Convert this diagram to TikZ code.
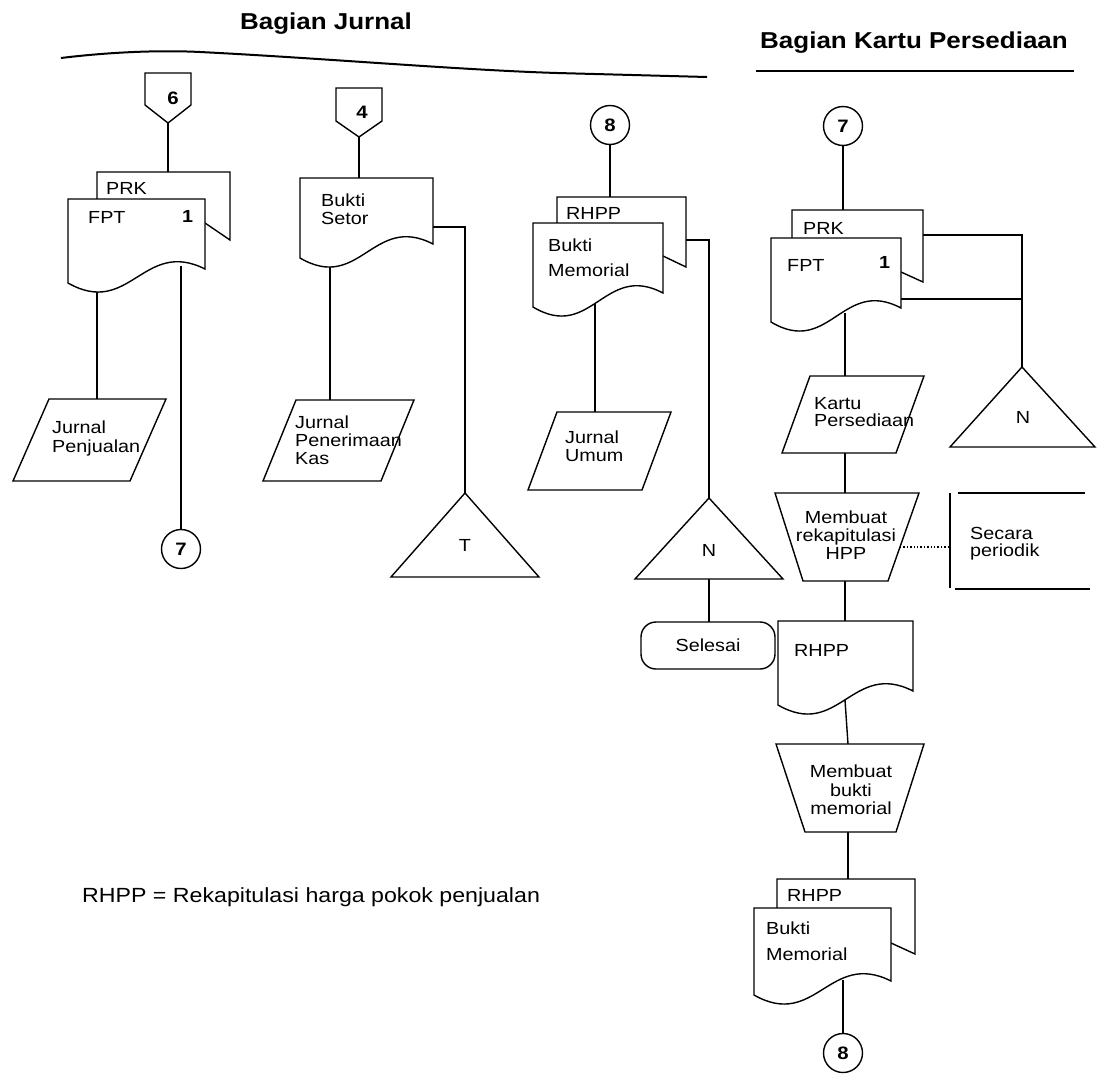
\documentclass[tikz,border=0pt]{standalone}
\usepackage{fontspec}
\setmainfont{Liberation Sans}[FakeStretch=1.13]
\usetikzlibrary{calc}

\newcommand\bodyfont{\fontsize{17.5}{19}\selectfont}
\newcommand\numfont{\fontsize{18}{18}\selectfont\bfseries}
\newcommand\headfont{\fontsize{23}{25}\selectfont\bfseries}
\newcommand\notefont{\fontsize{20.5}{22}\selectfont}

% document symbol: left x, top y, right x, bottom y at the left edge
\newcommand\docshape[4]{%
  \draw[shp] (#1,#2) -- (#3,#2) -- (#3,{#4-14})
    .. controls ({#1+0.55*(#3-#1)},{#4-45}) and ({#1+0.45*(#3-#1)},{#4+35}) .. (#1,#4) -- cycle;}
% copy behind a document: left x, top y, right x, bottom-right y, front right x, front y
\newcommand\backdoc[6]{%
  \draw[shp] (#5,#6) -- (#3,#4) -- (#3,#2) -- (#1,#2) -- (#1,{#2+40}) -- cycle;}

\begin{document}
\begin{tikzpicture}[x=1pt,y=-1pt,
  every node/.style={inner sep=0pt},
  ln/.style={line width=1.4pt},
  shp/.style={draw, line width=1.4pt, fill=white, line join=miter},
  lbl/.style={font=\bodyfont, align=left, anchor=west},
  ctr/.style={font=\bodyfont, align=center},
  num/.style={font=\numfont},
  conn/.style={draw, circle, line width=1.4pt, fill=white, minimum size=39pt, font=\numfont}]

\useasboundingbox (0,0) rectangle (1104,1092);
\fill[white] (0,0) rectangle (1104,1092);

% ---------- section headings ----------
\node[font=\headfont] (hjurnal) at (326,24) {Bagian Jurnal};
\node[font=\headfont] (hkartu) at (914,43) {Bagian Kartu Persediaan};
\draw[line width=2pt] (61,58) .. controls (110,52) and (160,50) .. (200,52)
  .. controls (320,58) and (460,70) .. (557,73) -- (707,77);
\draw[line width=2pt] (756,71) -- (1074,71);

% ---------- anchor points of the flow lines ----------
\coordinate (p6-tip) at (168,123);
\coordinate (prk1-top) at (168,172);
\coordinate (fpt1-bot) at (97,291);
\coordinate (jp-top) at (97,399);
\coordinate (prk1-out) at (181,266);

\coordinate (p4-tip) at (359,137);
\coordinate (bs-top) at (359,178);
\coordinate (bs-bot) at (330,266);
\coordinate (jpk-top) at (330,400);
\coordinate (bs-out) at (433,227);
\coordinate (bs-turn) at (465,227);
\coordinate (t-top) at (465,493);

\coordinate (rhpp1-top) at (610,197);
\coordinate (bm1-bot) at (595,302);
\coordinate (ju-top) at (595,412);
\coordinate (rhpp1-out) at (686,240);
\coordinate (rhpp1-turn) at (709,240);
\coordinate (n1-top) at (709,498);
\coordinate (n1-bot) at (709,579);
\coordinate (sel-top) at (709,622);

\coordinate (prk2-top) at (843,210);
\coordinate (prk2-out) at (923,235);
\coordinate (prk2-turn) at (1022,235);
\coordinate (fpt2-out) at (901,299);
\coordinate (fpt2-join) at (1022,299);
\coordinate (n2-top) at (1022,367);
\coordinate (fpt2-bot) at (845,313);
\coordinate (kp-top) at (845,376);
\coordinate (kp-bot) at (845,453);
\coordinate (mr-top) at (845,493);
\coordinate (mr-bot) at (845,581);
\coordinate (mr-side) at (900,547);
\coordinate (note-side) at (950,547);
\coordinate (rhpp2-top) at (845,621);
\coordinate (rhpp2-bot) at (845,700);
\coordinate (mb-top) at (848,744);
\coordinate (mb-bot) at (848,832);
\coordinate (rhpp3-top) at (848,879);
\coordinate (bm2-bot) at (843,980);

% ---------- connectors (node to node) ----------
\node[conn] (c7a) at (181,549) {7};
\node[conn] (c8a) at (610,125) {8};
\node[conn] (c7b) at (843,126) {7};
\node[conn] (c8b) at (843,1053) {8};

\draw[ln] (p6-tip) -- (prk1-top);
\draw[ln] (fpt1-bot) -- (jp-top);
\draw[ln] (prk1-out) -- (c7a.north);
\draw[ln] (p4-tip) -- (bs-top);
\draw[ln] (bs-bot) -- (jpk-top);
\draw[ln] (bs-out) -- (bs-turn) -- (t-top);
\draw[ln] (c8a.south) -- (rhpp1-top);
\draw[ln] (bm1-bot) -- (ju-top);
\draw[ln] (rhpp1-out) -- (rhpp1-turn) -- (n1-top);
\draw[ln] (n1-bot) -- (sel-top);
\draw[ln] (c7b.south) -- (prk2-top);
\draw[ln] (prk2-out) -- (prk2-turn) -- (n2-top);
\draw[ln] (fpt2-out) -- (fpt2-join);
\draw[ln] (fpt2-bot) -- (kp-top);
\draw[ln] (kp-bot) -- (mr-top);
\draw[ln, dotted] (mr-side) -- (note-side);
\draw[ln] (mr-bot) -- (rhpp2-top);
\draw[ln] (rhpp2-bot) -- (mb-top);
\draw[ln] (mb-bot) -- (rhpp3-top);
\draw[ln] (bm2-bot) -- (c8b.north);

% ---------- column: Bagian Jurnal, penjualan ----------
\draw[shp] (145,73) -- (191,73) -- (191,105) -- (p6-tip) -- (145,105) -- cycle;
\backdoc{97}{172}{230}{240}{205}{223}
\docshape{68}{199}{205}{283}
\draw[shp] (49,399) -- (166,399) -- (130,481) -- (13,481) -- cycle;

% ---------- column: penerimaan kas ----------
\draw[shp] (336,88) -- (382,88) -- (382,121) -- (p4-tip) -- (336,121) -- cycle;
\docshape{300}{178}{433}{258}
\draw[shp] (296,400) -- (414,400) -- (381,481) -- (263,481) -- cycle;
\draw[shp] (t-top) -- (539,577) -- (391,577) -- cycle;

% ---------- column: memorial ----------
\backdoc{557}{197}{686}{267}{663}{256}
\docshape{533}{223}{663}{307}
\draw[shp] (557,412) -- (671,412) -- (642,490) -- (528,490) -- cycle;
\draw[shp] (n1-top) -- (783,579) -- (635,579) -- cycle;
\draw[shp, rounded corners=15pt] (641,622) rectangle (775,669);

% ---------- column: Bagian Kartu Persediaan ----------
\backdoc{792}{210}{923}{282}{901}{272}
\docshape{771}{238}{901}{322}
\draw[shp] (n2-top) -- (1095,447) -- (950,447) -- cycle;
\draw[shp] (810,376) -- (924,376) -- (896,453) -- (782,453) -- cycle;
\draw[shp] (775,493) -- (919,493) -- (888,581) -- (803,581) -- cycle;
\draw[ln] (950,493) -- (950,588);
\draw[ln] (958,493) -- (1085,493);
\draw[ln] (955,589) -- (1090,589);
\docshape{778}{621}{913}{705}
\draw[shp] (776,744) -- (924,744) -- (896,832) -- (805,832) -- cycle;
\backdoc{777}{879}{915}{954}{891}{943}
\docshape{754}{908}{891}{995}

% ---------- texts ----------
\node[num] (t6) at (173,98) {6};
\node[num] (t4) at (362,112) {4};
\node[lbl] (tprk1) at (106,188) {PRK};
\node[lbl] (tfpt1) at (88,217) {FPT};
\node[lbl, font=\bodyfont\bfseries] (tone1) at (182,216) {1};
\node[lbl, font=\fontsize{17.5}{19}\selectfont] (tjp) at (52,438) {Jurnal\\Penjualan};
\node[lbl, font=\fontsize{17.5}{18}\selectfont] (tbs) at (321,209) {Bukti\\Setor};
\node[lbl, font=\fontsize{17.5}{18}\selectfont] (tjpk) at (295,440) {Jurnal\\Penerimaan\\Kas};
\node[font=\bodyfont] (tt) at (465,545) {T};

\node[lbl] (trhpp1) at (566,213) {RHPP};
\node[lbl, font=\fontsize{17.5}{25}\selectfont] (tbm1) at (548,258) {Bukti\\Memorial};
\node[lbl, font=\fontsize{17.5}{18}\selectfont] (tju) at (565,446) {Jurnal\\Umum};
\node[font=\bodyfont] (tn1) at (709,550) {N};
\node[font=\bodyfont] (tsel) at (708,645) {Selesai};

\node[lbl] (tprk2) at (803,228) {PRK};
\node[lbl] (tfpt2) at (787,265) {FPT};
\node[lbl, font=\bodyfont\bfseries] (tone2) at (879,262) {1};
\node[lbl, font=\fontsize{17.5}{17}\selectfont] (tkp) at (814,412) {Kartu\\Persediaan};
\node[font=\bodyfont] (tn2) at (1023,417) {N};
\node[ctr, font=\fontsize{17.5}{18}\selectfont] (tmr) at (846,535) {Membuat\\rekapitulasi\\HPP};
\node[lbl, font=\fontsize{17.5}{17}\selectfont] (tsp) at (970,544) {Secara\\periodik};
\node[lbl] (trhpp2) at (794,650) {RHPP};
\node[ctr, font=\fontsize{17.5}{18.5}\selectfont] (tmb) at (851,790) {Membuat\\bukti\\memorial};
\node[lbl] (trhpp3) at (787,895) {RHPP};
\node[lbl, font=\fontsize{17.5}{26}\selectfont] (tbm2) at (766,941) {Bukti\\Memorial};

\node[font=\notefont, anchor=base west] (legend) at (82,902) {RHPP = Rekapitulasi harga pokok penjualan};
\end{tikzpicture}
\end{document}
